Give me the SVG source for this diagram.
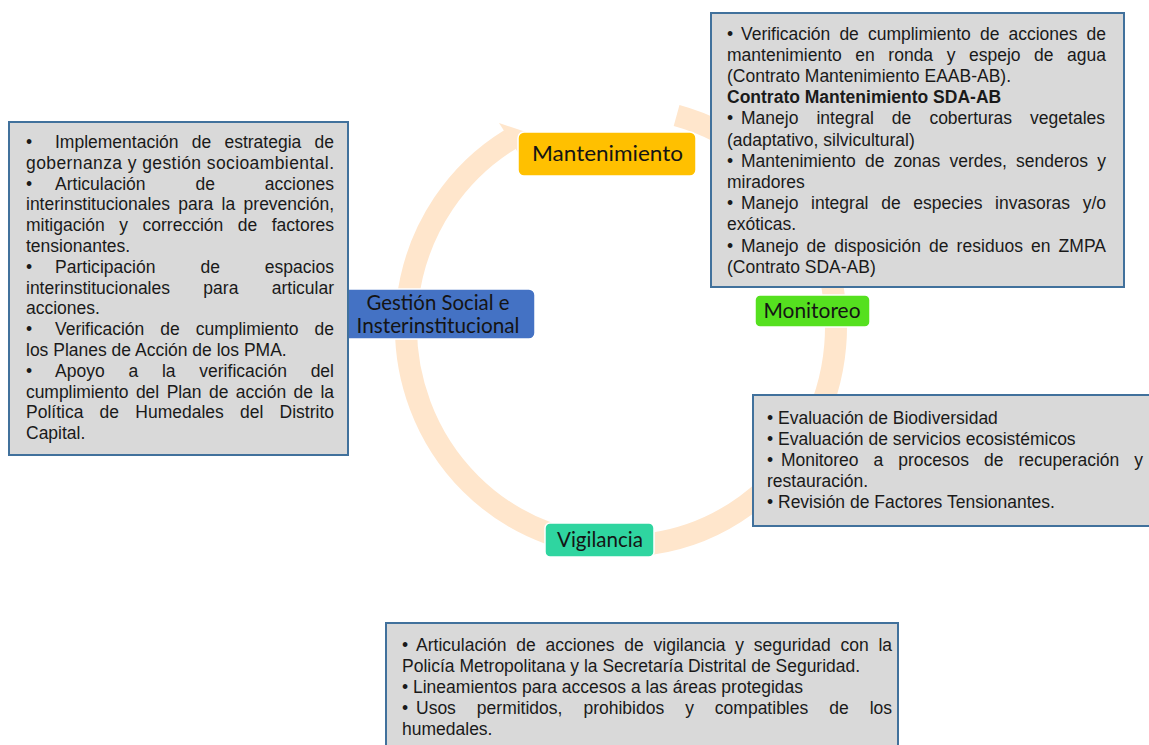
<svg xmlns="http://www.w3.org/2000/svg" width="1149" height="745" viewBox="0 0 1149 745">
<style>
.tb{fill:#D9D9D9;stroke:#41719C;stroke-width:2}
.t{font-family:"Liberation Sans",Arial,sans-serif;font-size:17.5px;fill:#1a1a1a}
.b{font-weight:bold}
.n{font-family:Lato,"Noto Sans",sans-serif;font-size:20.5px;fill:#141414;text-anchor:middle}
.node{stroke:#ffffff;stroke-width:1.5}
.ring{fill:none;stroke:#FFE6CC;stroke-width:22}
</style>
<rect width="1149" height="745" fill="#ffffff"/>
<g id="connectors">
<path class="ring" d="M676.6,115.5 A215,219 0 1 1 510.3,139.3"/>
<polygon points="499,123 520.6,156.4 532,134" fill="#FFE6CC"/>
</g>
<g id="node-mantenimiento">
<rect class="node" x="518" y="132" width="178" height="44" rx="6" fill="#FFC000"/>
<text class="n" x="607.5" y="161" style="font-size:22px" textLength="151" lengthAdjust="spacingAndGlyphs">Mantenimiento</text>
</g>
<g id="node-gestion">
<rect class="node" x="341" y="289" width="194" height="50" rx="6" fill="#4472C4"/>
<text class="n" x="438" y="309.5" textLength="143" lengthAdjust="spacingAndGlyphs">Gestión Social e</text>
<text class="n" x="438" y="332.5" textLength="163" lengthAdjust="spacingAndGlyphs">Insterinstitucional</text>
</g>
<g id="node-monitoreo">
<rect class="node" x="755" y="295" width="115" height="32" rx="5" fill="#55E01F"/>
<text class="n" x="812" y="318" textLength="97" lengthAdjust="spacingAndGlyphs">Monitoreo</text>
</g>
<g id="node-vigilancia">
<rect class="node" x="545" y="523" width="109" height="34" rx="5" fill="#2FD5A0"/>
<text class="n" x="600" y="547" textLength="86" lengthAdjust="spacingAndGlyphs">Vigilancia</text>
</g>
<g id="box-gestion">
<rect class="tb" x="9" y="122" width="339" height="333"/>
<text class="t" x="26" y="148">•</text>
<text class="t" x="55" y="148" style="word-spacing:8.4px" textLength="279" lengthAdjust="spacing">Implementación de estrategia de</text>
<text class="t" x="26" y="168.8" textLength="308" lengthAdjust="spacing">gobernanza y gestión socioambiental.</text>
<text class="t" x="26" y="189.6">•</text>
<text class="t" x="55" y="189.6" style="word-spacing:45px" textLength="279" lengthAdjust="spacing">Articulación de acciones</text>
<text class="t" x="26" y="210.4" style="word-spacing:3.5px" textLength="308" lengthAdjust="spacing">interinstitucionales para la prevención,</text>
<text class="t" x="26" y="231.2" style="word-spacing:9.6px" textLength="308" lengthAdjust="spacing">mitigación y corrección de factores</text>
<text class="t" x="26" y="252">tensionantes.</text>
<text class="t" x="26" y="272.8">•</text>
<text class="t" x="55" y="272.8" style="word-spacing:40px" textLength="279" lengthAdjust="spacing">Participación de espacios</text>
<text class="t" x="26" y="293.6" style="word-spacing:28.5px" textLength="308" lengthAdjust="spacing">interinstitucionales para articular</text>
<text class="t" x="26" y="314.4">acciones.</text>
<text class="t" x="26" y="335.2">•</text>
<text class="t" x="55" y="335.2" style="word-spacing:11.2px" textLength="279" lengthAdjust="spacing">Verificación de cumplimiento de</text>
<text class="t" x="26" y="356">los Planes de Acción de los PMA.</text>
<text class="t" x="26" y="376.8">•</text>
<text class="t" x="55" y="376.8" style="word-spacing:18.9px" textLength="279" lengthAdjust="spacing">Apoyo a la verificación del</text>
<text class="t" x="26" y="397.6" style="word-spacing:2.7px" textLength="308" lengthAdjust="spacing">cumplimiento del Plan de acción de la</text>
<text class="t" x="26" y="418.4" style="word-spacing:11.3px" textLength="308" lengthAdjust="spacing">Política de Humedales del Distrito</text>
<text class="t" x="26" y="439.2">Capital.</text>
</g>
<g id="box-mantenimiento">
<rect class="tb" x="711" y="13" width="413" height="274"/>
<text class="t" x="727" y="39.5">•</text>
<text class="t" x="741" y="39.5" style="word-spacing:4.3px" textLength="365" lengthAdjust="spacing">Verificación de cumplimiento de acciones de</text>
<text class="t" x="727" y="60.7" style="word-spacing:8.7px" textLength="379" lengthAdjust="spacing">mantenimiento en ronda y espejo de agua</text>
<text class="t" x="727" y="81.9">(Contrato Mantenimiento EAAB-AB).</text>
<text class="t b" x="727" y="103.1">Contrato Mantenimiento SDA-AB</text>
<text class="t" x="727" y="124.3">•</text>
<text class="t" x="741" y="124.3" style="word-spacing:13.2px" textLength="364" lengthAdjust="spacing">Manejo integral de coberturas vegetales</text>
<text class="t" x="727" y="145.5">(adaptativo, silvicultural)</text>
<text class="t" x="727" y="166.7">•</text>
<text class="t" x="741" y="166.7" style="word-spacing:4.3px" textLength="365" lengthAdjust="spacing">Mantenimiento de zonas verdes, senderos y</text>
<text class="t" x="727" y="187.9">miradores</text>
<text class="t" x="727" y="209.1">•</text>
<text class="t" x="741" y="209.1" style="word-spacing:7.8px" textLength="365" lengthAdjust="spacing">Manejo integral de especies invasoras y/o</text>
<text class="t" x="727" y="230.3">exóticas.</text>
<text class="t" x="727" y="251.5">•</text>
<text class="t" x="741" y="251.5" style="word-spacing:3.1px" textLength="365" lengthAdjust="spacing">Manejo de disposición de residuos en ZMPA</text>
<text class="t" x="727" y="272.7">(Contrato SDA-AB)</text>
</g>
<g id="box-monitoreo">
<rect class="tb" x="753" y="395" width="410" height="131"/>
<text class="t" x="767" y="424">• Evaluación de Biodiversidad</text>
<text class="t" x="767" y="445">• Evaluación de servicios ecosistémicos</text>
<text class="t" x="767" y="466">•</text>
<text class="t" x="781" y="466" style="word-spacing:10.3px" textLength="362" lengthAdjust="spacing">Monitoreo a procesos de recuperación y</text>
<text class="t" x="767" y="487">restauración.</text>
<text class="t" x="767" y="508">• Revisión de Factores Tensionantes.</text>
</g>
<g id="box-vigilancia">
<rect class="tb" x="386" y="623" width="512" height="140"/>
<text class="t" x="402" y="651">•</text>
<text class="t" x="416" y="651" style="word-spacing:4.9px" textLength="476" lengthAdjust="spacing">Articulación de acciones de vigilancia y seguridad con la</text>
<text class="t" x="402" y="672">Policía Metropolitana y la Secretaría Distrital de Seguridad.</text>
<text class="t" x="402" y="693">• Lineamientos para accesos a las áreas protegidas</text>
<text class="t" x="402" y="714">•</text>
<text class="t" x="416" y="714" style="word-spacing:16.1px" textLength="476" lengthAdjust="spacing">Usos permitidos, prohibidos y compatibles de los</text>
<text class="t" x="402" y="735">humedales.</text>
</g>
</svg>
